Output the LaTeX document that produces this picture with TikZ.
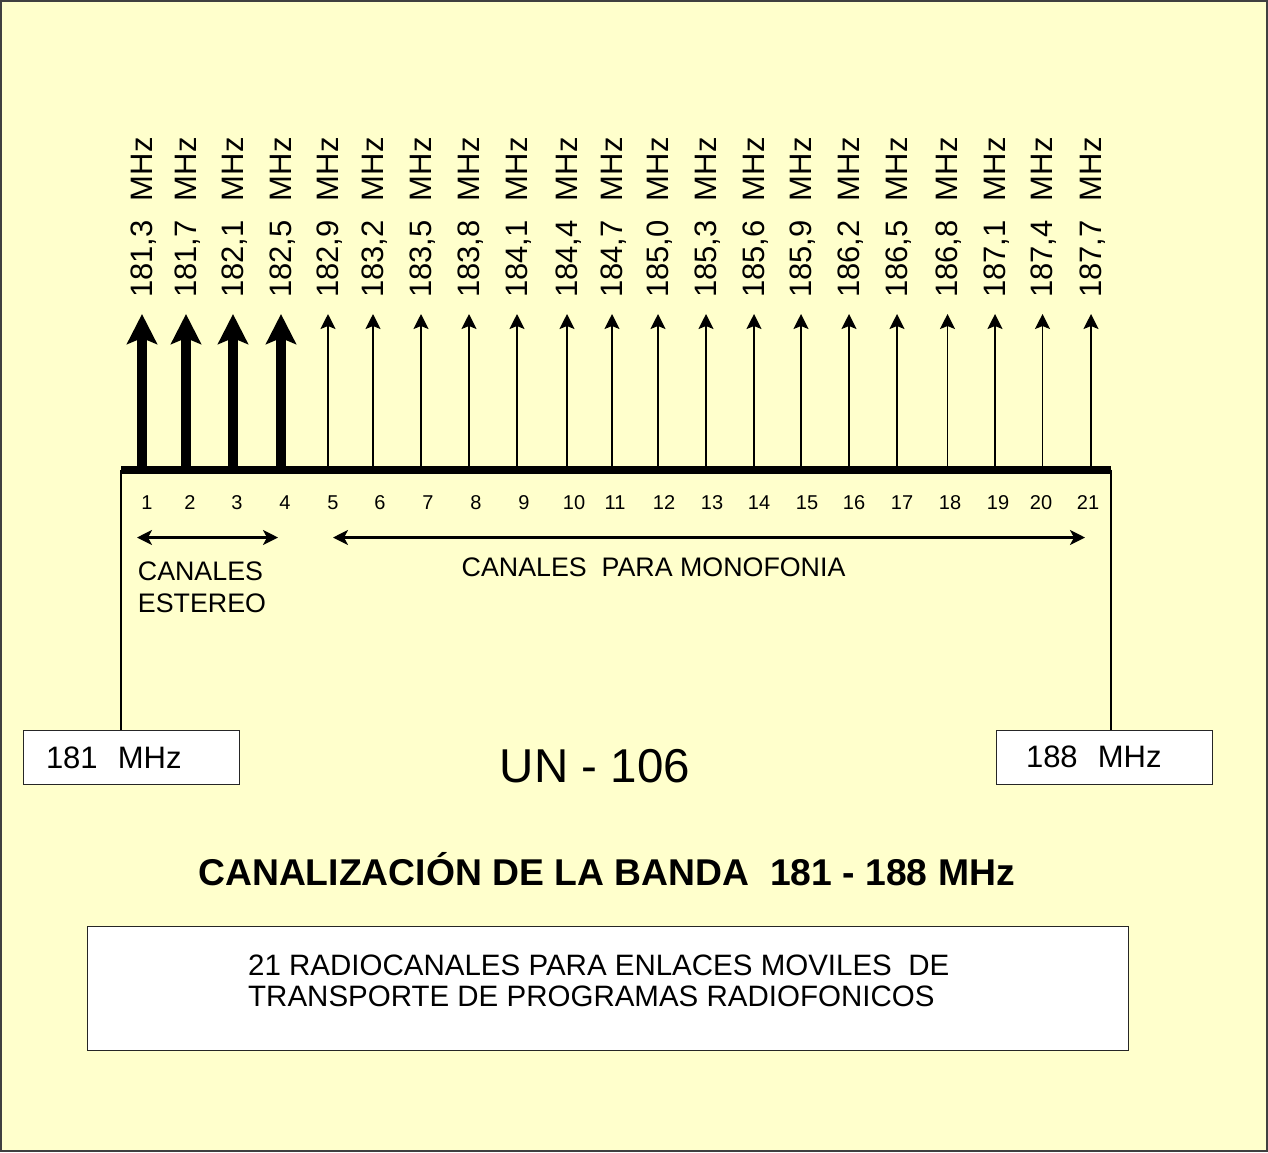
\documentclass[tikz,border=0pt]{standalone}
\usepackage{fontspec}
\setmainfont{Liberation Sans}
\usetikzlibrary{arrows.meta,calc}
\definecolor{bg}{HTML}{FFFFCC}
\definecolor{framec}{HTML}{404040}
\begin{document}
\begin{tikzpicture}[x=1pt,y=-1pt,
  freq/.style={rotate=90,anchor=base west,inner sep=0pt,font=\fontsize{31}{31}\selectfont},
  chnum/.style={inner sep=0pt,anchor=base,font=\fontsize{20}{20}\selectfont},
  stereoarrow/.style={line width=10pt,-{Stealth[length=30pt,width=30pt,inset=6pt]}},
  monoarrow/.style={line width=1.8pt,-{Stealth[length=15pt,width=15pt,inset=3pt]}},
  spanarrow/.style={line width=2.5pt,{Stealth[length=15pt,width=15pt,inset=4pt]}-{Stealth[length=15pt,width=15pt,inset=4pt]}},
  txt/.style={inner sep=0pt,font=\fontsize{26.8}{32}\selectfont,align=left},
  mhzbox/.style={draw=black!85,line width=1pt,fill=white,minimum width=216pt,minimum height=54pt,inner sep=0pt,align=left,font=\fontsize{31}{31}\selectfont}
]
\useasboundingbox (0,0) rectangle (1268,1152);
\fill[bg] (0,0) rectangle (1268,1152);
\draw[framec,line width=2pt] (1,1) rectangle (1267,1151);

% channel arrows and frequency labels
\foreach \i/\x/\f in {1/142/{181,3},2/186/{181,7},3/233/{182,1},4/281/{182,5},
  5/328/{182,9},6/373/{183,2},7/421/{183,5},8/469/{183,8},9/517/{184,1},
  10/567/{184,4},11/612/{184,7},12/658/{185,0},13/706/{185,3},14/754/{185,6},
  15/801/{185,9},16/849/{186,2},17/897/{186,5},18/947.5/{186,8},19/995/{187,1},
  20/1042.5/{187,4},21/1091/{187,7}}{
  \coordinate (b\i) at (\x,469);
  \coordinate (t\i) at (\x,314);
  \node[freq] (f\i) at (\x+10,298) {\f\hspace{0.62em}MHz};
}
\foreach \i in {1,...,4} \draw[stereoarrow] (b\i) -- (t\i);
\foreach \i in {5,...,21} \draw[monoarrow] (b\i) -- (t\i);

% base bar
\coordinate (barL) at (121,469.5);
\coordinate (barR) at (1111,469.5);
\draw[line width=8pt] (barL) -- (barR);

% channel numbers
\foreach \i/\x in {1/147,2/190,3/237,4/285,5/333,6/380,7/428,8/476,9/524,10/574,
  11/615,12/664,13/712,14/759,15/807,16/854,17/902,18/950,19/998,20/1041,21/1088}{
  \node[chnum] (n\i) at (\x,509) {\i};
}

% span arrows
\coordinate (sL) at (137,537.5);
\coordinate (sR) at (278,537.5);
\coordinate (mL) at (333,537.5);
\coordinate (mR) at (1085,537.5);
\draw[spanarrow] (sL) -- (sR);
\draw[spanarrow] (mL) -- (mR);

\node[txt,anchor=north west] (stereo) at (137.7,562) {CANALES\\ESTEREO};
\node[txt,anchor=base west] (mono) at (461.5,576) {CANALES\ \ PARA MONOFONIA};

% frequency boxes
\node[mhzbox,text width=170pt] (lbox) at (131,757.5) {181\hspace{0.65em}MHz};
\node[mhzbox,text width=156pt] (rbox) at (1104,757) {188\hspace{0.65em}MHz};
\draw[line width=2pt] (barL) -- (barL |- lbox.north);
\draw[line width=2pt] (barR) -- (barR |- rbox.north);

\node[inner sep=0pt,anchor=base,font=\fontsize{47.5}{47.5}\selectfont] (un) at (595,782) {UN - 106};

\node[inner sep=0pt,anchor=base,font=\bfseries\fontsize{37.3}{37.3}\selectfont] (title) at (606.5,885) {CANALIZACIÓN DE LA BANDA\ \ 181 - 188 MHz};

\node[draw=black!85,line width=1pt,fill=white,minimum width=1041pt,minimum height=124pt,inner sep=0pt] (desc) at (607.5,988) {};
\node[inner sep=0pt,anchor=north west,align=left,font=\fontsize{29.5}{31}\selectfont] (desctxt) at (248,954.5) {21 RADIOCANALES PARA ENLACES MOVILES\ \ DE\\TRANSPORTE DE PROGRAMAS RADIOFONICOS};
\end{tikzpicture}
\end{document}
